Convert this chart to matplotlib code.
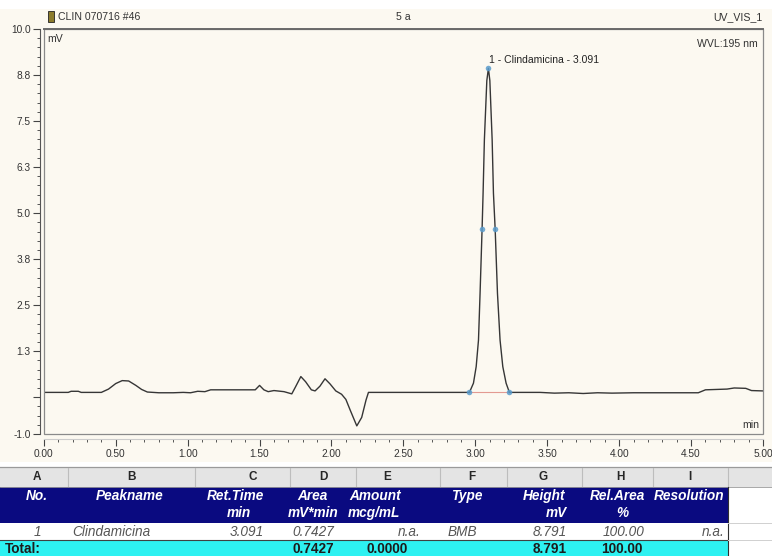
import numpy as np
import matplotlib.pyplot as plt
from matplotlib.patches import Rectangle
from matplotlib.ticker import MultipleLocator

plt.rcParams['font.family'] = ['Liberation Sans', 'DejaVu Sans']

tempo = [0.00, 0.17, 0.19, 0.24, 0.26, 0.40, 0.45, 0.50, 0.545, 0.59, 0.64, 0.68, 0.72,
         0.80, 0.90, 0.97, 1.02, 1.07, 1.12, 1.16, 1.30, 1.47, 1.50, 1.53, 1.56, 1.60,
         1.67, 1.724, 1.75, 1.787, 1.82, 1.86, 1.886, 1.92, 1.955, 1.99, 2.03, 2.07,
         2.10, 2.13, 2.176, 2.21, 2.24, 2.257, 2.50, 2.80, 2.959, 2.987, 3.006, 3.022,
         3.033, 3.047, 3.054, 3.063, 3.080, 3.091, 3.101, 3.117, 3.126, 3.138, 3.154,
         3.172, 3.191, 3.214, 3.237, 3.26, 3.45, 3.55, 3.65, 3.75, 3.85, 3.95, 4.10,
         4.55, 4.60, 4.75, 4.80, 4.88, 4.92, 5.00]
sinal = [0.13, 0.13, 0.16, 0.16, 0.13, 0.13, 0.22, 0.37, 0.45, 0.44, 0.32, 0.21, 0.14,
         0.12, 0.12, 0.13, 0.12, 0.16, 0.15, 0.20, 0.20, 0.20, 0.32, 0.20, 0.15, 0.18,
         0.15, 0.09, 0.28, 0.56, 0.42, 0.20, 0.17, 0.30, 0.50, 0.36, 0.17, 0.08,
         -0.06, -0.35, -0.78, -0.55, -0.08, 0.13, 0.13, 0.13, 0.13, 0.38, 0.83, 1.55,
         2.82, 4.56, 5.54, 6.99, 8.60, 8.93, 8.60, 6.99, 5.54, 4.56, 2.82,
         1.55, 0.83, 0.38, 0.13, 0.13, 0.13, 0.11, 0.12, 0.10, 0.12, 0.11, 0.12,
         0.12, 0.20, 0.22, 0.25, 0.24, 0.18, 0.17]

# marcadores do pico 1 (inicio, meia altura, apice, fim)
marca_t = [2.959, 3.047, 3.091, 3.138, 3.237]
marca_mv = [0.13, 4.56, 8.93, 4.56, 0.13]
pico_nome = "1 - Clindamicina - 3.091"

y_ticks = [10.0, 8.75, 7.5, 6.25, 5.0, 3.75, 2.5, 1.25, 0.0, -1.0]
y_labels = ['10.0', '8.8', '7.5', '6.3', '5.0', '3.8', '2.5', '1.3', '', '-1.0']
x_ticks = [0.0, 0.5, 1.0, 1.5, 2.0, 2.5, 3.0, 3.5, 4.0, 4.5, 5.0]

# tabela de integracao
col_letras = ['A', 'B', 'C', 'D', 'E', 'F', 'G', 'H', 'I']
cab1 = ['No.', 'Peakname', 'Ret.Time', 'Area', 'Amount', 'Type', 'Height', 'Rel.Area', 'Resolution']
cab2 = ['', '', 'min', 'mV*min', 'mcg/mL', '', 'mV', '%', '']
linha1 = ['1', 'Clindamicina', '3.091', '0.7427', 'n.a.', 'BMB', '8.791', '100.00', 'n.a.']
total = ['Total:', '', '', '0.7427', '0.0000', '', '8.791', '100.00', '']

creme = '#fcf9f1'
W, H = 772, 556
fig = plt.figure(figsize=(W / 100, H / 100), dpi=100, facecolor=creme)

# area do grafico em pixels
x0, x1, y0, y1 = 43.8, 763, 29, 434
ax = fig.add_axes([x0 / W, 1 - y1 / H, (x1 - x0) / W, (y1 - y0) / H])
ax.set_facecolor(creme)
ax.set_xlim(0, 5)
ax.set_ylim(-1, 10)

ax.plot(tempo, sinal, color='#363636', lw=1.0, zorder=3)
ax.plot([marca_t[0], marca_t[-1]], [marca_mv[0], marca_mv[-1]], color='#e39a92', lw=0.8, zorder=2)
ax.scatter(marca_t, marca_mv, s=16, marker='o', color='#5a9ccc', alpha=0.85, zorder=4, lw=0)
ax.text(marca_t[2] + 0.005, marca_mv[2] + 0.08, pico_nome, fontsize=7.5, color='#222222',
        ha='left', va='bottom')

for s in ['top', 'right']:
    ax.spines[s].set_visible(False)
ax.spines['left'].set_position(('outward', 2.5))
ax.spines['bottom'].set_position(('outward', 3.5))
ax.spines['left'].set_color('#555555')
ax.spines['bottom'].set_color('#cccccc')
ax.add_patch(Rectangle((0, 0), 1, 1, transform=ax.transAxes, fill=False,
                       ec='#8a8a8a', lw=0.9, clip_on=False, zorder=5))
ax.plot([0, 1], [1, 1], transform=ax.transAxes, color='#6a6a6a', lw=1.4, clip_on=False, zorder=6)

ax.set_xticks(x_ticks)
ax.set_xticklabels([f'{v:.2f}' for v in x_ticks])
ax.set_yticks(y_ticks)
ax.set_yticklabels(y_labels)
ax.xaxis.set_minor_locator(MultipleLocator(0.1))
ax.yaxis.set_minor_locator(MultipleLocator(0.25))
ax.tick_params(which='major', direction='out', length=5, width=0.8, color='#444444',
               labelsize=7.3, labelcolor='#333333', pad=2)
ax.tick_params(which='minor', direction='out', length=2.5, width=0.7, color='#555555')

# camada em pixels para cabecalho e tabela
ov = fig.add_axes([0, 0, 1, 1], facecolor='none')
ov.set_xlim(0, W)
ov.set_ylim(H, 0)
ov.axis('off')

ov.add_patch(Rectangle((0, 0), W, 9, color='white', lw=0))
ov.add_patch(Rectangle((48, 11), 6, 11, fc='#8c7c2c', ec='#222222', lw=0.6))
ov.text(58, 17, 'CLIN 070716 #46', fontsize=7.6, color='#333333', va='center', ha='left')
ov.text(403, 17, '5 a', fontsize=7.6, color='#333333', va='center', ha='center')
ov.text(762, 17, 'UV_VIS_1', fontsize=7.6, color='#333333', va='center', ha='right')
ov.text(47, 39, 'mV', fontsize=7.6, color='#333333', va='center', ha='left')
ov.text(758, 44, 'WVL:195 nm', fontsize=7.6, color='#333333', va='center', ha='right')
ov.text(759, 425, 'min', fontsize=7.6, color='#333333', va='center', ha='right')

# tabela
bordas = [0, 68, 195, 290, 356, 440, 507, 582, 653, 728, W]
letra_x = [37, 131, 253, 323, 387, 472, 543, 620, 690]
c1_x = [37, 130, 235, 312, 375, 467, 544, 617, 689]
c2_x = [0, 0, 239, 313, 374, 0, 556, 622, 0]
lin_x = [(37, 'center'), (72, 'left'), (264, 'right'), (334, 'right'), (421, 'right'),
         (448, 'left'), (567, 'right'), (645, 'right'), (725, 'right')]
tot_x = [(5, 'left'), (0, 'left'), (0, 'left'), (334, 'right'), (408, 'right'),
         (0, 'left'), (567, 'right'), (643, 'right'), (0, 'left')]

ov.add_patch(Rectangle((0, 462), W, H - 462, color='white', lw=0))
ov.add_patch(Rectangle((0, 467), W, 20, fc='#e4e4e4', ec='none'))
ov.plot([0, W], [467, 467], color='#9a9a9a', lw=0.9)
ov.plot([0, W], [487, 487], color='#9a9a9a', lw=0.6)
for b in bordas[1:-1]:
    ov.plot([b, b], [468, 486], color='#bdbdbd', lw=0.8)
for i, l in enumerate(col_letras):
    ov.text(letra_x[i], 477.5, l, fontsize=8.5, fontweight='bold', color='#262626',
            ha='center', va='center')

ov.add_patch(Rectangle((0, 487), 728, 36, color='#0a0a80', lw=0))
ov.add_patch(Rectangle((0, 523), 728, 17, color='white', lw=0))
ov.add_patch(Rectangle((0, 540), 728, 16, color='#2df1f1', lw=0))
ov.plot([0, 728], [540, 540], color='#404040', lw=0.8)
ov.plot([728, 728], [487, H], color='#303030', lw=0.8)
for yy in [523, 540]:
    ov.plot([728, W], [yy, yy], color='#d0d0d0', lw=0.7)

fs = 9.8
for i in range(len(cab1)):
    ov.text(c1_x[i], 496, cab1[i], fontsize=fs, fontweight='bold', fontstyle='italic',
            color='white', ha='center', va='center')
    if cab2[i]:
        ov.text(c2_x[i], 513, cab2[i], fontsize=fs, fontweight='bold', fontstyle='italic',
                color='white', ha='center', va='center')
    x, ha = lin_x[i]
    ov.text(x, 532, linha1[i], fontsize=fs, fontstyle='italic', color='#555555',
            ha=ha, va='center')
    if total[i]:
        x, ha = tot_x[i]
        ov.text(x, 549, total[i], fontsize=fs, fontweight='bold', color='#1c1c1c',
                ha=ha, va='center')

fig.savefig('out.png', dpi=100, facecolor=fig.get_facecolor())
